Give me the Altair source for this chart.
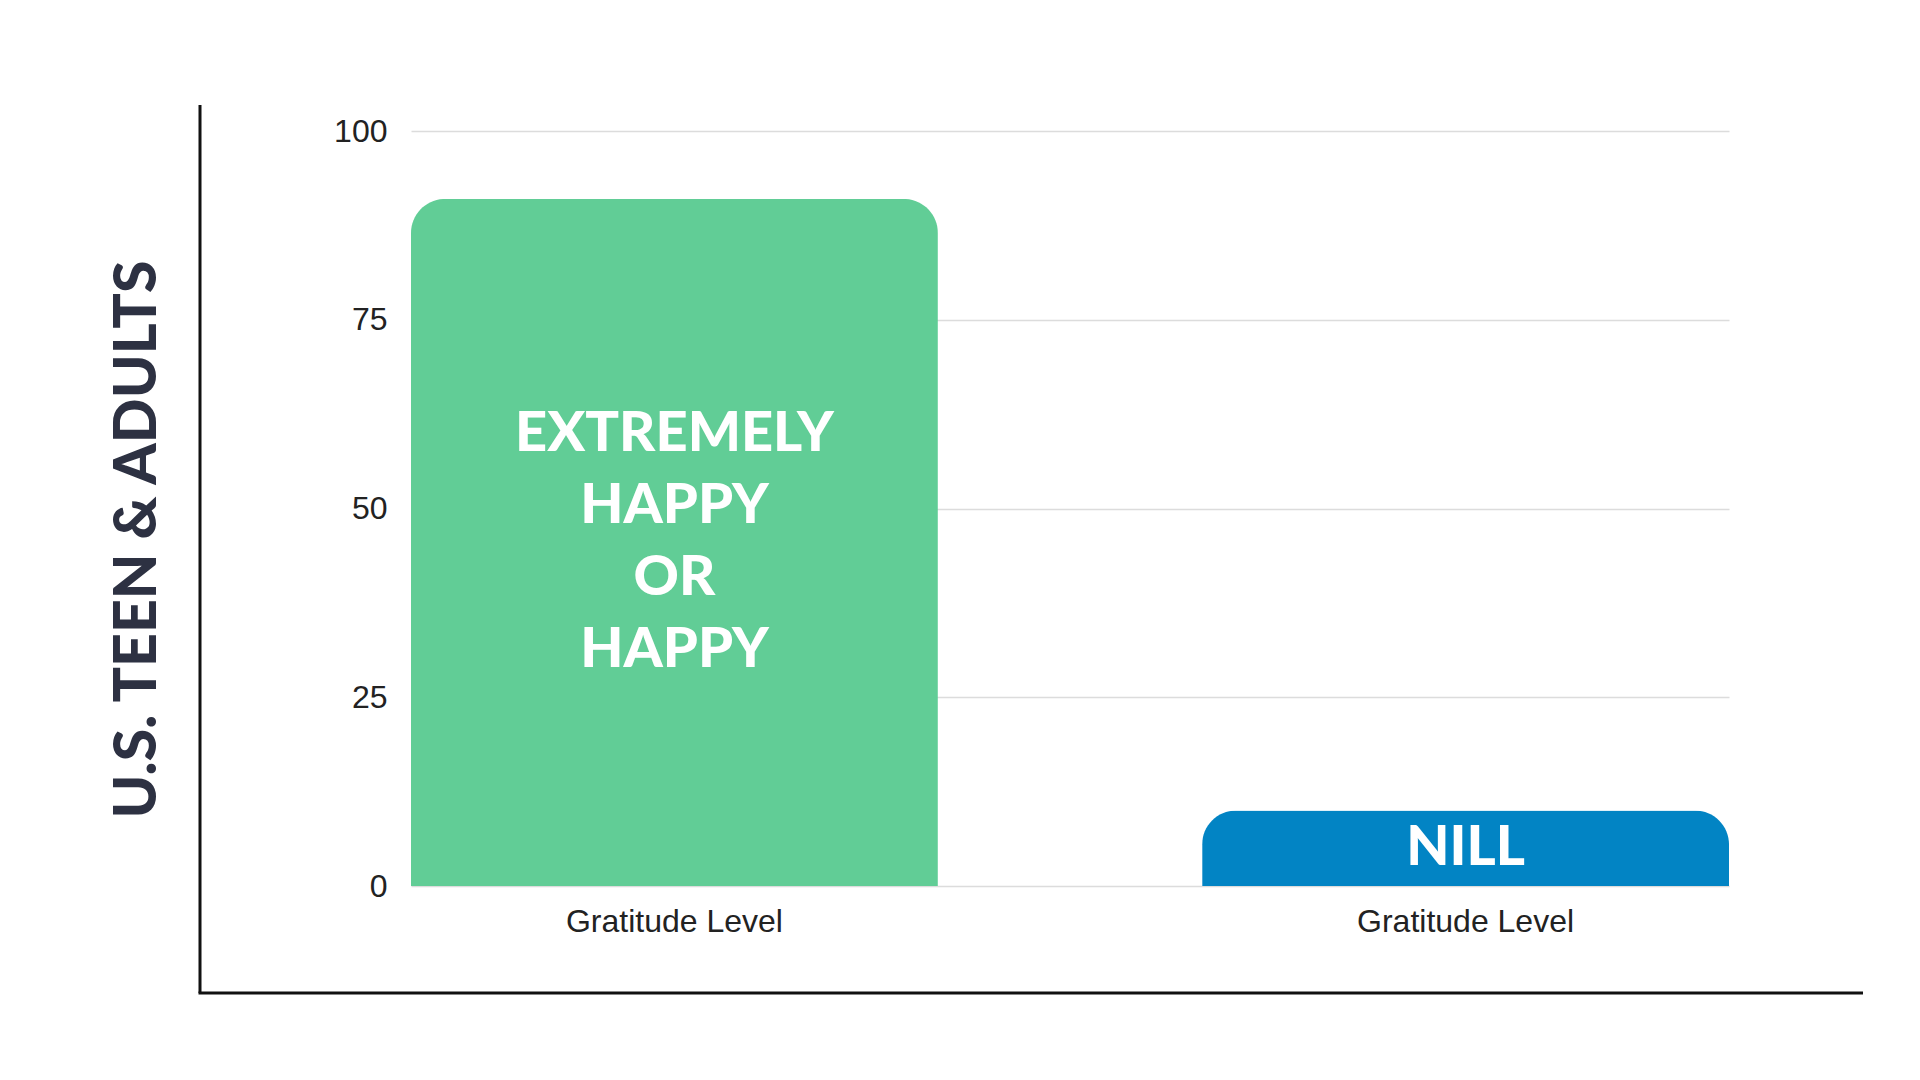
import altair as alt
import pandas as pd

# ---- data ----
categories = ["EXTREMELY\nHAPPY\nOR\nHAPPY", "NILL"]
values = [91, 10]
bar_colors = ["#61CD96", "#0284C4"]
x_label_text = "Gratitude Level"
y_title = "U.S. TEEN & ADULTS"
y_ticks = [0, 25, 50, 75, 100]

df = pd.DataFrame({
    "category": categories,
    "value": values,
    "label_pos": [v / 2 for v in values],
    "color": bar_colors,
    "n_lines": [c.count("\n") + 1 for c in categories],
})

PLOT_W = 1318
PLOT_H = 755
LINE_H = 72

x_enc = alt.X(
    "category:N",
    sort=categories,
    scale=alt.Scale(paddingInner=0.334, paddingOuter=0),
    axis=alt.Axis(
        title=None,
        labelExpr=f"'{x_label_text}'",
        labelAngle=0,
        labelLimit=0,
        labelFont="Liberation Sans",
        labelFontSize=32,
        labelColor="#222222",
        labelPadding=20,
        domain=False,
        ticks=False,
        grid=False,
    ),
)

y_scale = alt.Scale(domain=[0, 100], nice=False)

bars = alt.Chart(df).mark_bar(
    cornerRadiusTopLeft=34, cornerRadiusTopRight=34
).encode(
    x=x_enc,
    y=alt.Y(
        "value:Q",
        scale=y_scale,
        axis=alt.Axis(
            values=y_ticks,
            title=y_title,
            titleFont="Lato",
            titleFontWeight=900,
            titleFontSize=59,
            titleColor="#2D3142",
            titleAngle=270,
            titleX=-274,
            titleY=408,
            titleAlign="center",
            titleBaseline="middle",
            labelFont="Liberation Sans",
            labelFontSize=32,
            labelColor="#222222",
            labelPadding=24,
            domain=False,
            ticks=False,
            grid=True,
            gridColor="#DCDCDC",
            gridWidth=1.5,
        ),
    ),
    color=alt.Color("color:N", scale=None, legend=None),
)


def label_layer(n):
    return alt.Chart(df).transform_filter(
        alt.datum.n_lines == n
    ).mark_text(
        font="Lato",
        fontWeight=900,
        fontSize=56,
        color="white",
        lineBreak="\n",
        lineHeight=LINE_H,
        align="center",
        baseline="middle",
        dy=-(n - 1) / 2 * LINE_H,
    ).encode(
        x=alt.X("category:N", sort=categories),
        y=alt.Y("label_pos:Q", scale=y_scale),
        text="category:N",
    )


label_layers = [label_layer(n) for n in sorted(set(df["n_lines"]))]

frame_df = pd.DataFrame({"k": [0]})
left_line = alt.Chart(frame_df).mark_rule(color="#111111", strokeWidth=3).encode(
    x=alt.value(-211), y=alt.value(-26), y2=alt.value(862)
)
bottom_line = alt.Chart(frame_df).mark_rule(color="#111111", strokeWidth=3).encode(
    x=alt.value(-212.5), x2=alt.value(1452), y=alt.value(862)
)

chart = alt.layer(bars, *label_layers, left_line, bottom_line).properties(
    width=PLOT_W,
    height=PLOT_H,
    background="white",
    autosize=alt.AutoSizeParams(type="none"),
    padding={"left": 403, "top": 123, "right": 180, "bottom": 180},
).configure_view(strokeWidth=0, stroke="transparent")

chart.save("out.html", embed_options={"renderer": "svg", "actions": False})
